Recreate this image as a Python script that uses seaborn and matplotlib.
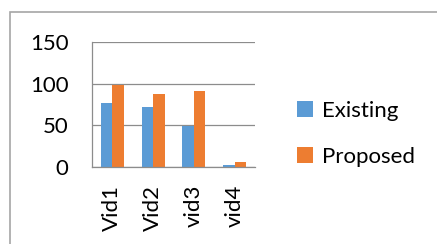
import pandas as pd
import matplotlib.pyplot as plt
import seaborn as sns
from matplotlib.patches import Rectangle

# chart values
videos = ['Vid1', 'Vid2', 'vid3', 'vid4']
existing = [77, 72, 49, 3]
proposed = [99, 88, 91, 6]

df = pd.DataFrame({
    'video': videos * 2,
    'value': existing + proposed,
    'method': ['Existing'] * 4 + ['Proposed'] * 4,
})

sns.set_style('white')
plt.rcParams['font.family'] = ['Lato', 'DejaVu Sans']
plt.rcParams['text.color'] = 'black'
plt.rcParams['xtick.labelcolor'] = 'black'
plt.rcParams['ytick.labelcolor'] = 'black'

fig = plt.figure(figsize=(4.37, 2.44), dpi=100)
ax = fig.add_axes([92/437, (244-167)/244, (255-92)/437, 125/244])

sns.barplot(data=df, x='video', y='value', hue='method',
            palette=['#5B9BD5', '#ED7D31'], saturation=1, width=0.56,
            edgecolor='none', ax=ax)

grey = '#8c8c8c'
ax.set_xlim(-0.5, 3.5)
ax.set_ylim(0, 150)
ax.set_yticks([0, 50, 100, 150])
ax.yaxis.grid(True, color=grey, linewidth=0.9)
ax.set_axisbelow(True)
ax.tick_params(axis='y', length=6, color=grey, width=0.9, labelsize=16, pad=11,
               labelcolor='black')
ax.tick_params(axis='x', which='major', length=0, labelsize=16, pad=13,
               labelrotation=90, labelcolor='black')
ax.set_xticks([-0.5, 0.5, 1.5, 2.5, 3.5], minor=True)
ax.tick_params(axis='x', which='minor', length=5, color=grey, width=0.9)
ax.set_xlabel('')
ax.set_ylabel('')
for s in ['top', 'right']:
    ax.spines[s].set_visible(False)
for s in ['left', 'bottom']:
    ax.spines[s].set_color(grey)
    ax.spines[s].set_linewidth(0.9)

leg = ax.legend(loc='center left', bbox_to_anchor=(1.19, 0.266), frameon=False,
                fontsize=16, handlelength=0.72, handleheight=0.72,
                handletextpad=0.4, labelspacing=1.15, borderpad=0)
for t in leg.get_texts():
    t.set_color('black')

fig.patches.append(Rectangle((10/437, -0.1), 1.2, (232/244) + 0.1,
                             transform=fig.transFigure, fill=False,
                             edgecolor='#a6a6a6', linewidth=1.2))

plt.savefig('out.png', dpi=100)
